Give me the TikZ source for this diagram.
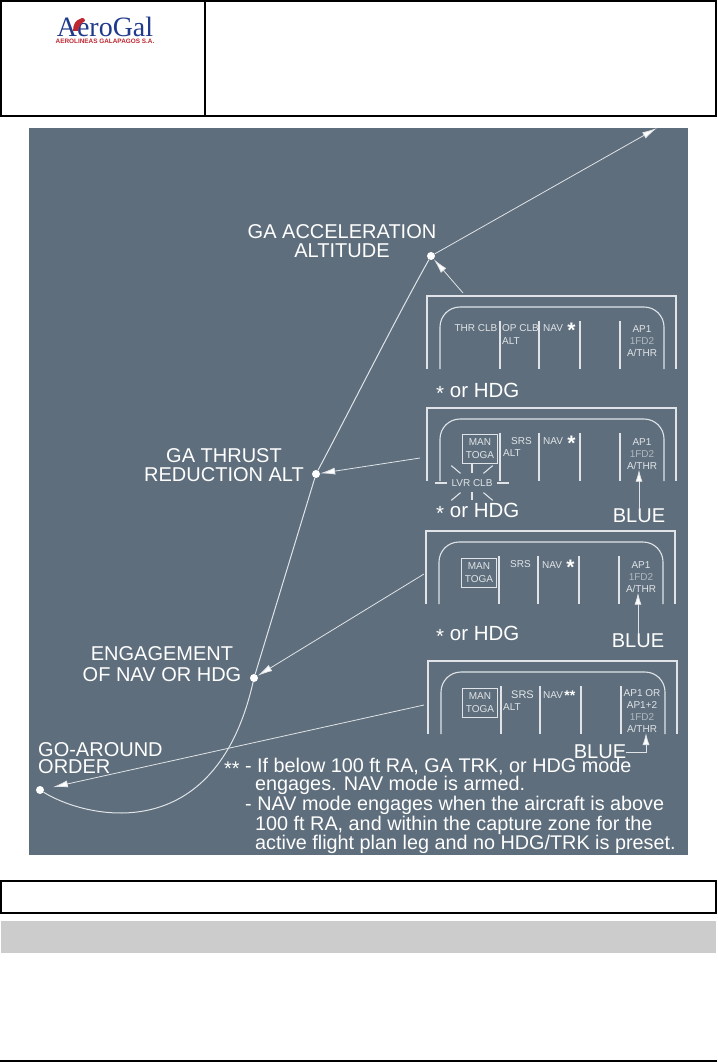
\documentclass[tikz,border=0pt]{standalone}
\usepackage{fontspec}
\setmainfont{Liberation Sans}
\newfontfamily\logofont{Liberation Serif}
\usepackage{xcolor}
\usetikzlibrary{arrows.meta, positioning, calc}
\definecolor{myslate}{RGB}{94,110,124}
\definecolor{mylight}{RGB}{224,228,232}
\definecolor{mydim}{RGB}{176,184,192}
\definecolor{mygray}{RGB}{204,204,204}
\definecolor{myblue}{RGB}{32,58,140}
\definecolor{myred}{RGB}{190,40,50}
\newcommand{\fdtwo}{{\color{mydim}1FD2}}
\newcommand{\lowstar}{\raisebox{-0.3ex}{*}}
\tikzset{
  frame/.style={draw=black, line width=2pt},
  biglabel/.style={text=white, align=center, inner sep=0pt, font=\fontsize{20}{19}\selectfont},
  notetext/.style={text=white, anchor=base west, inner sep=0pt, font=\fontsize{19.8}{19}\selectfont},
  modetext/.style={text=mylight, inner sep=0pt, align=center, font=\fontsize{10}{12.5}\selectfont},
  togabox/.style={draw=mylight, line width=0.8pt, text=mylight, align=center, inner sep=0pt,
    minimum width=35pt, minimum height=29pt, font=\fontsize{10}{13}\selectfont},
  startext/.style={text=white, inner sep=0pt, anchor=base west, font=\fontsize{20.5}{20}\selectfont},
  navstar/.style={text=white, inner sep=0pt, font=\bfseries\fontsize{21}{21}\selectfont},
  wpdot/.style={circle, fill=white, minimum size=8pt, inner sep=0pt},
  panelline/.style={draw=mylight, line width=1.1pt},
  flightpath/.style={draw=mylight, line width=1pt},
  arrow/.style={-{Latex[length=15pt, width=7pt, fill=white]}, draw=mylight, line width=0.8pt},
  bluearrow/.style={-{Latex[length=12pt, width=7pt, fill=white]}, draw=mylight, line width=0.8pt}
}
\newcommand{\modepanel}[2]{%
  \begin{scope}[shift={(#1,#2)}]
    \draw[panelline] (0,73) -- (0,0) -- (249,0) -- (249,73);
    \draw[panelline] (13,73) -- (13,31) arc[start angle=180, end angle=270, radius=20] -- (217,11)
      arc[start angle=270, end angle=360, radius=20] -- (237,73);
    \foreach \dx in {73,112,153,193} \draw[panelline] (\dx,73) -- (\dx,25);
  \end{scope}}
\begin{document}
\begin{tikzpicture}[x=1pt, y=-1pt]
  \useasboundingbox (0,0) rectangle (717,1062);
  % page furniture
  \fill[white] (0,0) rectangle (717,1062);
  \draw[frame] (1,1) rectangle (716,116);
  \draw[frame, line width=1.2pt] (205,1) -- (205,116);
  \draw[frame] (1,881) rectangle (716,913);
  \fill[mygray] (1,921) rectangle (716,953);
  \draw[frame] (0,1061) -- (717,1061);
  % logo
  \node[inner sep=0pt, text=myblue, font=\logofont\fontsize{28}{28}\selectfont] (logo) at (105,26.5) {AeroGal};
  \node[inner sep=0pt, text=myred, font=\bfseries\fontsize{6.4}{7}\selectfont, below=2pt of logo] (logosub) {AEROLINEAS GALAPAGOS S.A.};
  \fill[myred] (73,31) .. controls (73,24) and (76,20) .. (80,19) .. controls (82,17) and (85,18) .. (85,21)
    .. controls (81,23) and (79,26) .. (78,31) -- cycle;
  % picture
  \fill[myslate] (29,128) rectangle (688,855);
  \modepanel{427}{296}
  \modepanel{427}{408}
  \modepanel{426}{531}
  \modepanel{428}{661}
  % waypoints
  \node[wpdot] (goa) at (40,790) {};
  \node[wpdot] (nav) at (254,678) {};
  \node[wpdot] (thrust) at (316,474) {};
  \node[wpdot] (accel) at (431,256) {};
  \coordinate (top) at (657,128);
  \draw[flightpath] (goa) .. controls (85,818) and (215,850) .. (nav);
  \draw[flightpath] (nav) -- (thrust);
  \draw[flightpath] (thrust) .. controls (350,410) and (395,320) .. (accel);
  \draw[arrow] (accel) -- (top);
  % labels
  \node[biglabel] (lblaccel) at (342,241) {GA ACCELERATION\\ALTITUDE};
  \node[biglabel] (lblthrust) at (224,465) {GA THRUST\\REDUCTION ALT};
  \node[biglabel, font=\fontsize{20}{20.5}\selectfont] (lblnav) at (162,664) {ENGAGEMENT\\OF NAV OR HDG};
  \node[biglabel, align=left, anchor=west, font=\fontsize{20}{17.5}\selectfont] (lblgoa) at (38,758) {GO-AROUND\\ORDER};
  % panel 1
  \node[modetext] (thr1) at (476,328) {THR CLB};
  \node[modetext, anchor=west] (op1) at (502,328) {OP CLB};
  \node[modetext, anchor=west] (alt1) at (502,341) {ALT};
  \node[modetext, anchor=west] (nav1) at (543,328) {NAV};
  \node[navstar, right=4pt of nav1, yshift=-2pt] (st1) {*};
  \node[modetext] (ap1) at (642,341) {AP1\\[-0.5pt]\fdtwo\\[-0.5pt]A/THR};
  \node[startext] (or1) at (436,397) {\lowstar{} or HDG};
  % panel 2
  \node[togabox] (toga2) at (480,449) {MAN\\TOGA};
  \node[modetext, anchor=west] (srs2) at (511,441) {SRS};
  \node[modetext, anchor=west] (alt2) at (503,453) {ALT};
  \node[modetext, anchor=west] (nav2) at (543,441) {NAV};
  \node[navstar, right=4pt of nav2, yshift=-2pt] (st2) {*};
  \node[modetext] (ap2) at (642,454) {AP1\\[-0.5pt]\fdtwo\\[-0.5pt]A/THR};
  \node[modetext, fill=myslate, inner xsep=2pt, inner ysep=1pt] (lvr2) at (472,483) {LVR CLB};
  \foreach \ang/\ra/\rb in {0/25/37, 180/25/37, 90/9/17, 270/10/19, 40/15/27, 140/15/27, 220/15/27, 320/15/27}
    \draw[panelline] (lvr2.center) ++({\ang}:\ra) -- ++({\ang}:{\rb-\ra});
  \node[startext] (or2) at (436,517) {\lowstar{} or HDG};
  \node[biglabel] (blue2) at (639,516) {BLUE};
  \draw[bluearrow] (blue2) -- (blue2 |- ap2.south);
  % panel 3
  \node[togabox] (toga3) at (479,573) {MAN\\TOGA};
  \node[modetext, anchor=west] (srs3) at (510,564) {SRS};
  \node[modetext, anchor=west] (nav3) at (542,565) {NAV};
  \node[navstar, right=4pt of nav3, yshift=-2pt] (st3) {*};
  \node[modetext] (ap3) at (641,577) {AP1\\[-0.5pt]\fdtwo\\[-0.5pt]A/THR};
  \node[startext] (or3) at (436,640) {\lowstar{} or HDG};
  \node[biglabel] (blue3) at (638,641) {BLUE};
  \draw[bluearrow] (blue3) -- (blue3 |- ap3.south);
  % panel 4
  \node[togabox] (toga4) at (480,703) {MAN\\TOGA};
  \node[modetext, anchor=west, font=\fontsize{11}{12}\selectfont] (srs4) at (511,695) {SRS};
  \node[modetext, anchor=west] (alt4) at (503,707) {ALT};
  \node[modetext, anchor=west] (nav4) at (543,695) {NAV};
  \node[navstar, font=\bfseries\fontsize{14}{14}\selectfont, right=1pt of nav4, yshift=-1pt] (st4) {**};
  \node[modetext] (ap4) at (642,711) {AP1 OR\\[-0.5pt]AP1+2\\[-0.5pt]\fdtwo\\[-0.5pt]A/THR};
  \node[biglabel] (blue4) at (600,752) {BLUE};
  \coordinate (bluetip) at (646,733);
  \draw[bluearrow] (blue4.east) -| (bluetip);
  % arrows to the waypoints
  \coordinate (from1) at (463,293);
  \coordinate (from2) at (420,458);
  \coordinate (from3) at (424,574);
  \coordinate (from4) at (424,705);
  \draw[arrow] (from1) -- (accel);
  \draw[arrow] (from2) -- (thrust);
  \draw[arrow] (from3) -- (nav);
  \draw[arrow, shorten >=9pt] (from4) -- (goa);
  % notes
  \node[notetext] (note1) at (224,772) {\lowstar\lowstar{} - If below 100 ft RA, GA TRK, or HDG mode};
  \node[notetext] (note2) at (255,790) {engages. NAV mode is armed.};
  \node[notetext] (note3) at (245,810) {- NAV mode engages when the aircraft is above};
  \node[notetext] (note4) at (255,830) {100 ft RA, and within the capture zone for the};
  \node[notetext] (note5) at (255,849) {active flight plan leg and no HDG/TRK is preset.};
\end{tikzpicture}
\end{document}
